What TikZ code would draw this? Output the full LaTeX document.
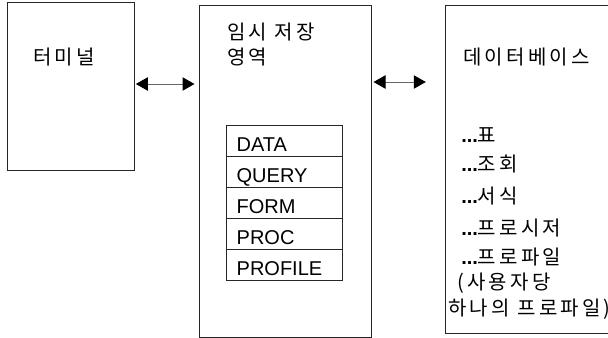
\documentclass[tikz,border=0pt]{standalone}
\usepackage{fontspec}
\usepackage{tikz}
\usetikzlibrary{arrows.meta}
\setmainfont{Liberation Sans}
\newfontfamily\kr[LetterSpace=16]{Noto Sans CJK KR}

\begin{document}
\begin{tikzpicture}[x=0.75pt,y=-0.75pt,>={Triangle[length=9pt,width=10pt,color=black,fill=black]},
    box/.style={draw=black!85,line width=0.75pt,inner sep=0pt},
    cell/.style={box,minimum width=87pt,minimum height=23.25pt,inner xsep=8pt,
      text width=71pt,align=left,text height=16pt,text depth=0pt,
      font=\fontsize{15}{17}\selectfont},
    txt/.style={inner sep=0pt,anchor=base west,font=\fontsize{15}{18.75}\selectfont\kr},
    dots/.style={font=\fontsize{15}{18.75}\selectfont\rmfamily\bfseries},
    link/.style={<->,draw=black!60,line width=0.75pt}]
  \clip (0,0) rectangle (608,337);

  \node (term) at (70.5,86) [box,minimum width=95.25pt,minimum height=126pt] {} ;
  \node (buffer) at (285,171) [box,minimum width=129pt,minimum height=249pt] {} ;
  \node (db) at (542.5,169) [box,minimum width=146.25pt,minimum height=246pt] {} ;

  \node (termtxt) at (33,64.4) [txt] {터미널} ;
  \node (buftxt) at (227,64.4) [txt,align=left] {임시 저장\\영역} ;
  \node (dbtxt) at (463,64.4) [txt] {데이터베이스} ;

  \node (c1) at (284,140.5) [cell] {DATA} ;
  \node (c2) at (284,171.5) [cell] {QUERY} ;
  \node (c3) at (284,202.5) [cell] {FORM} ;
  \node (c4) at (284,233.5) [cell] {PROC} ;
  \node (c5) at (284,264.5) [cell] {PROFILE} ;

  \node (i1) at (461,142) [txt] {{\bfseries\rmfamily\addfontfeatures{LetterSpace=0}...}표} ;
  \node (i2) at (461,171) [txt] {{\bfseries\rmfamily...}조회} ;
  \node (i3) at (461,203) [txt] {{\bfseries\rmfamily...}서식} ;
  \node (i4) at (461,235) [txt] {{\bfseries\rmfamily...}프로시저} ;
  \node (i5) at (461,264) [txt] {{\bfseries\rmfamily...}프로파일} ;
  \node (i6) at (457,289) [txt] {(사용자당} ;
  \node (i7) at (448,315) [txt] {하나의 프로파일)} ;

  \coordinate (lvl1) at (0,84);
  \coordinate (lvl2) at (0,82);
  \draw [link,shorten <=1pt,shorten >=3pt] (term.east |- lvl1) -- (buffer.west |- lvl1);
  \draw [link,shorten <=1.5pt,shorten >=14pt] (buffer.east |- lvl2) -- (db.west |- lvl2);
\end{tikzpicture}
\end{document}
